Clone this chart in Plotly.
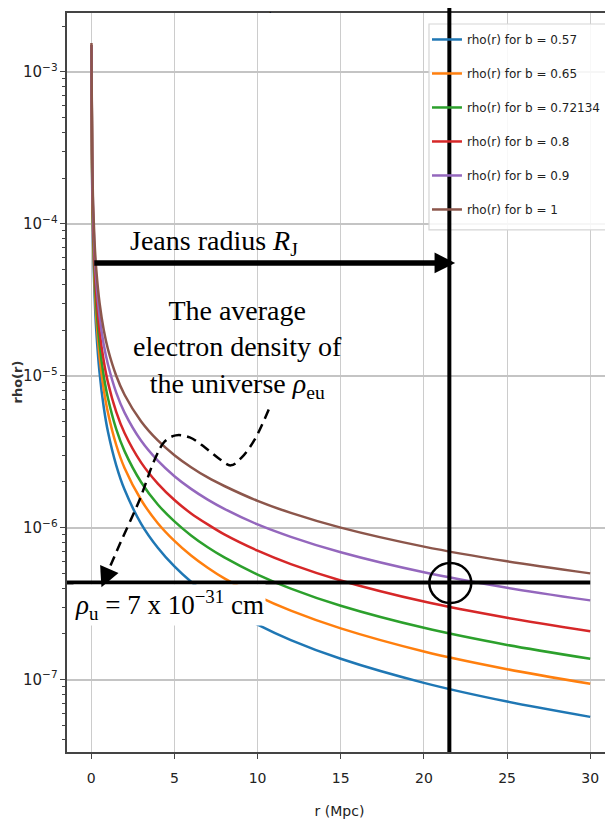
import plotly.graph_objects as go

# ---------------- data ----------------
r = [0.01, 0.05, 0.1, 0.2, 0.3, 0.5, 0.75, 1, 1.5, 2, 3, 4, 5, 6, 7, 8,
     10, 12, 15, 20, 25, 30]

b_values = ["0.57", "0.65", "0.72134", "0.8", "0.9", "1"]

rho_b057 = [1.50e-3, 1.94e-4, 8.04e-5, 3.33e-5, 1.99e-5, 1.04e-5, 6.20e-6,
            4.29e-6, 2.57e-6, 1.78e-6, 1.06e-6, 7.37e-7, 5.55e-7, 4.40e-7,
            3.62e-7, 3.05e-7, 2.30e-7, 1.82e-7, 1.37e-7, 9.51e-8, 7.16e-8,
            5.68e-8]
rho_b065 = [1.50e-3, 2.14e-4, 9.26e-5, 4.01e-5, 2.45e-5, 1.32e-5, 8.10e-6,
            5.72e-6, 3.50e-6, 2.47e-6, 1.52e-6, 1.07e-6, 8.18e-7, 6.55e-7,
            5.44e-7, 4.63e-7, 3.54e-7, 2.84e-7, 2.17e-7, 1.53e-7, 1.17e-7,
            9.37e-8]
rho_b072 = [1.50e-3, 2.32e-4, 1.04e-4, 4.63e-5, 2.89e-5, 1.60e-5, 9.96e-6,
            7.13e-6, 4.45e-6, 3.19e-6, 1.99e-6, 1.42e-6, 1.10e-6, 8.89e-7,
            7.43e-7, 6.37e-7, 4.91e-7, 3.97e-7, 3.06e-7, 2.19e-7, 1.69e-7,
            1.37e-7]
rho_b080 = [1.50e-3, 2.52e-4, 1.17e-4, 5.42e-5, 3.45e-5, 1.96e-5, 1.25e-5,
            9.07e-6, 5.79e-6, 4.20e-6, 2.68e-6, 1.95e-6, 1.52e-6, 1.24e-6,
            1.05e-6, 9.02e-7, 7.05e-7, 5.75e-7, 4.49e-7, 3.26e-7, 2.55e-7,
            2.08e-7]
rho_b090 = [1.50e-3, 2.76e-4, 1.33e-4, 6.43e-5, 4.20e-5, 2.45e-5, 1.60e-5,
            1.19e-5, 7.74e-6, 5.72e-6, 3.73e-6, 2.76e-6, 2.18e-6, 1.80e-6,
            1.53e-6, 1.33e-6, 1.05e-6, 8.70e-7, 6.88e-7, 5.08e-7, 4.02e-7,
            3.32e-7]
rho_b100 = [1.55e-3, 3.00e-4, 1.50e-4, 7.50e-5, 5.00e-5, 3.00e-5, 2.00e-5,
            1.50e-5, 1.00e-5, 7.50e-6, 5.00e-6, 3.75e-6, 3.00e-6, 2.50e-6,
            2.14e-6, 1.88e-6, 1.50e-6, 1.25e-6, 1.00e-6, 7.50e-7, 6.00e-7,
            5.00e-7]

series = [rho_b057, rho_b065, rho_b072, rho_b080, rho_b090, rho_b100]
colors = ["#1f77b4", "#ff7f0e", "#2ca02c", "#d62728", "#9467bd", "#8c564b"]

# annotation values
rho_u = 4.35e-7          # level of the horizontal reference line
r_jeans = 21.53          # position of the vertical (Jeans radius) line
guide_r = [10.67, 9.83, 9.05, 8.39, 7.73, 6.82, 5.92, 5.08, 4.42, 3.82,
           2.92, 1.71, 0.85]
guide_rho = [6.0e-6, 3.81e-6, 2.90e-6, 2.57e-6, 2.82e-6, 3.38e-6, 3.93e-6,
             4.05e-6, 3.70e-6, 2.82e-6, 1.54e-6, 7.77e-7, 4.7e-7]

SANS = "DejaVu Sans, sans-serif"
SERIF = "Liberation Serif, Times New Roman, serif"

fig = go.Figure()

for b, ys, c in zip(b_values, series, colors):
    fig.add_trace(go.Scatter(
        x=r, y=ys, mode="lines", name=f"rho(r) for b = {b}",
        legendgroup=b, line=dict(color=c, width=2.5, shape="spline", smoothing=0.8)))

# horizontal rho_u line
fig.add_trace(go.Scatter(x=[-1.46, 30], y=[rho_u, rho_u], mode="lines",
                         line=dict(color="black", width=4), showlegend=False,
                         hoverinfo="skip"))
# dashed guide curve
fig.add_trace(go.Scatter(x=guide_r, y=guide_rho, mode="lines",
                         line=dict(color="black", width=2.5, dash="10px,6px",
                                   shape="spline", smoothing=1.0),
                         showlegend=False, hoverinfo="skip"))

shapes = [
    # legend frame (drawn under the vertical line)
    dict(type="rect", xref="paper", yref="paper", x0=0.6642, x1=0.9927,
         y0=0.7064, y1=0.9851, fillcolor="rgba(255,255,255,0.85)",
         line=dict(color="#d5d5d5", width=1.2), layer="above"),
    # vertical Jeans radius line
    dict(type="line", xref="x", yref="paper", x0=r_jeans, x1=r_jeans,
         y0=0, y1=1.007, line=dict(color="black", width=4), layer="above"),
    # circle at the crossing
    dict(type="circle", xref="paper", yref="paper", x0=0.6648, x1=0.7418,
         y0=0.2016, y1=0.2558, line=dict(color="black", width=2.5),
         layer="above"),
]

annotations = [
    # Jeans radius arrow
    dict(x=21.88, y=-4.257, ax=0.09, ay=-4.257, axref="x", ayref="y",
         xref="x", yref="y", text="", showarrow=True, arrowhead=2,
         arrowsize=0.75, arrowwidth=5.5, arrowcolor="black", standoff=0),
    dict(x=7.40, y=-4.122, xref="x", yref="y", showarrow=False,
         text="Jeans radius <i>R</i><sub>J</sub>",
         font=dict(family=SERIF, size=28, color="black")),
    dict(x=8.81, y=-4.826, xref="x", yref="y", showarrow=False,
         text="The average<br>electron density of<br>the universe <i>ρ</i><sub>eu</sub>",
         font=dict(family=SERIF, size=28, color="black")),
    dict(x=4.70, y=-6.512, xref="x", yref="y", showarrow=False,
         text="<i>ρ</i><sub>u</sub> = 7 x 10<sup>−31</sup> cm",
         bgcolor="white", borderpad=1,
         font=dict(family=SERIF, size=27, color="black")),
    # arrow head of the dashed guide
    dict(x=0.61, y=-6.393, xref="x", yref="y", ax=6, ay=-14, text="",
         showarrow=True, arrowhead=2, arrowsize=1.6, arrowwidth=2.5,
         arrowcolor="black", standoff=0),
    # y axis title
    dict(x=-0.0917, y=0.5, xref="paper", yref="paper", text="<b>rho(r)</b>",
         textangle=-90, showarrow=False, xanchor="center", yanchor="middle",
         font=dict(family=SANS, size=13, color="#333")),
    dict(x=0.374, y=1.0035, xref="paper", yref="paper", text=".",
         showarrow=False, yanchor="middle",
         font=dict(family=SANS, size=8, color="black")),
]

fig.update_layout(
    width=605, height=813,
    margin=dict(l=59, r=1, t=5, b=69, autoexpand=False),
    plot_bgcolor="white", paper_bgcolor="white",
    shapes=shapes, annotations=annotations,
    showlegend=True,
    legend=dict(x=0.6605, y=0.9838, xanchor="left", yanchor="top",
                bgcolor="rgba(0,0,0,0)", borderwidth=0,
                font=dict(family=SANS, size=12, color="#222"),
                tracegroupgap=15, traceorder="grouped"),
    xaxis=dict(range=[-1.46, 31.31], tick0=0, dtick=5, showgrid=True,
               automargin=False,
               gridcolor="#cccccc", gridwidth=1, zeroline=False,
               showline=True, linecolor="#444", linewidth=2, mirror=True,
               ticks="outside", ticklen=5, tickcolor="#444",
               ticklabelstandoff=7,
               tickfont=dict(family=SANS, size=14, color="#222"),
               title=dict(text="r (Mpc)", standoff=21,
                          font=dict(family=SANS, size=14, color="#222"))),
    yaxis=dict(type="log", range=[-7.477, -2.612], dtick=1,
               automargin=False,
               exponentformat="power", showgrid=True, gridcolor="#c4c4c4",
               gridwidth=2, zeroline=False, showline=True, linecolor="#444",
               linewidth=2, mirror=False, ticks="outside", ticklen=5,
               tickcolor="#444",
               minor=dict(ticks="outside", ticklen=3, tickcolor="#444",
                          dtick="D1", showgrid=False),
               tickfont=dict(family=SANS, size=12, color="#222")),
)

fig.write_html("out.html")
